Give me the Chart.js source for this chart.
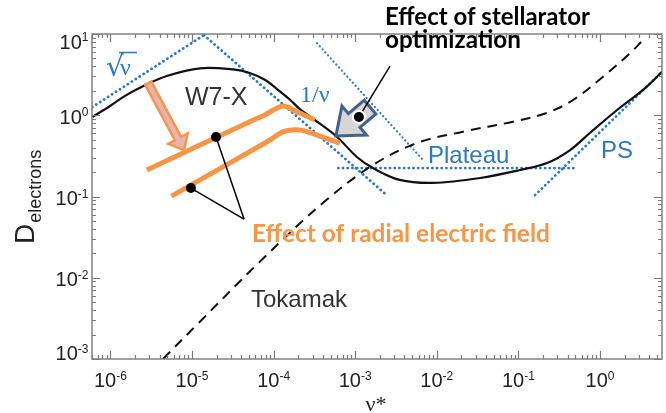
<!DOCTYPE html>
<html>
<head>
<meta charset="utf-8">
<script src="https://cdn.jsdelivr.net/npm/chart.js@4.4.1/dist/chart.umd.min.js"></script>
<style>
  body { margin: 0; background: #fff; }
  canvas { display: block; }
</style>
</head>
<body>
<canvas id="chart" width="666" height="413"></canvas>
<script>
// W7-X neoclassical electron diffusion vs collisionality
const w7xNu = [6.0e-7, 9.9e-7, 1.51e-6, 2.54e-6, 4.9e-6, 1.25e-5, 3.2e-5, 5.1e-5, 7.9e-5, 1.1e-4, 1.6e-4, 2.1e-4, 3.2e-4, 6.0e-4, 1.05e-3, 1.65e-3, 3.5e-3, 9.0e-3, 3.4e-2, 0.105, 0.224, 0.43, 0.75, 1.62, 3.37, 5.8];
const w7xD = [0.95, 1.30, 1.73, 2.29, 3.04, 3.78, 3.66, 3.31, 2.72, 2.10, 1.54, 1.19, 0.874, 0.540, 0.306, 0.224, 0.160, 0.147, 0.169, 0.212, 0.258, 0.373, 0.605, 1.16, 2.05, 3.45];

// tokamak (dashed)
const tokNu = [4.4e-6, 1.25e-5, 6.8e-5, 4.0e-4, 1.65e-3, 5.7e-3, 2.1e-2, 8.6e-2, 0.224, 0.467, 1.09, 2.33, 3.37];
const tokD = [1.0e-3, 2.88e-3, 1.58e-2, 8.3e-2, 0.244, 0.455, 0.628, 0.834, 1.07, 1.54, 2.98, 5.78, 8.44];

// asymptotic regimes (blue dotted)
const sqrtNu = [6.0e-7, 1.4e-5];
const sqrtD = [1.26, 9.7];
const invNu = [1.4e-5, 2.43e-3];
const invD = [9.7, 0.104];
const optNu = [3.4e-4, 6.8e-3];
const optD = [7.7, 0.28];
const plateauNu = [6.2e-4, 0.52];
const plateauD = [0.224, 0.224];
const psNu = [0.16, 5.8];
const psD = [0.104, 3.45];

// with radial electric field (orange)
const erHighNu = [2.8e-6, 5.1e-5, 7.8e-5, 1.3e-4, 1.9e-4, 3.2e-4];
const erHighD = [0.212, 0.833, 1.01, 1.30, 1.11, 0.874];
const erLowNu = [5.6e-6, 5.1e-5, 9.0e-5, 1.32e-4, 2.1e-4, 3.4e-4, 6.5e-4];
const erLowD = [0.101, 0.356, 0.496, 0.628, 0.658, 0.571, 0.452];

// tick labels (decade exponents)
const xTickExp = [-6, -5, -4, -3, -2, -1, 0];
const yTickExp = [-3, -2, -1, 0, 1];

const blue = '#2b79c2';
const orange = '#f79646';

const pts = (xs, ys) => xs.map((x, i) => ({ x: x, y: ys[i] }));

function dotted(xs, ys, w) {
    return {
        data: pts(xs, ys), borderColor: blue, borderWidth: w,
        borderDash: [0.1, w > 2.5 ? 4.6 : 4], borderCapStyle: 'round',
        pointRadius: 0, tension: 0, order: 4
    };
}

function blockArrow(ctx, a, b, shaftW, headW, headL, fill, stroke, lw) {
    const dx = b[0] - a[0], dy = b[1] - a[1];
    const len = Math.hypot(dx, dy);
    const ux = dx / len, uy = dy / len, nx = -uy, ny = ux;
    const bx = b[0] - ux * headL, by = b[1] - uy * headL;
    ctx.beginPath();
    ctx.moveTo(a[0] + nx * shaftW / 2, a[1] + ny * shaftW / 2);
    ctx.lineTo(bx + nx * shaftW / 2, by + ny * shaftW / 2);
    ctx.lineTo(bx + nx * headW / 2, by + ny * headW / 2);
    ctx.lineTo(b[0], b[1]);
    ctx.lineTo(bx - nx * headW / 2, by - ny * headW / 2);
    ctx.lineTo(bx - nx * shaftW / 2, by - ny * shaftW / 2);
    ctx.lineTo(a[0] - nx * shaftW / 2, a[1] - ny * shaftW / 2);
    ctx.closePath();
    ctx.fillStyle = fill;
    ctx.fill();
    ctx.lineJoin = 'miter';
    ctx.strokeStyle = stroke;
    ctx.lineWidth = lw;
    ctx.stroke();
}

// draw text scaled to a target width
function fitText(ctx, text, x, y, width, weight, family, color) {
    ctx.font = weight + ' 20px ' + family;
    const size = 20 * width / ctx.measureText(text).width;
    ctx.font = weight + ' ' + size.toFixed(2) + 'px ' + family;
    ctx.fillStyle = color;
    ctx.textAlign = 'left';
    ctx.fillText(text, x, y);
}

function powLabel(ctx, exp, x, baseline, align) {
    ctx.font = '20px "Liberation Sans"';
    const w10 = ctx.measureText('10').width;
    ctx.font = '12px "Liberation Sans"';
    const we = ctx.measureText(String(exp)).width;
    const start = align === 'center' ? x - (w10 + we) / 2 : x - (w10 + we);
    ctx.fillStyle = '#222';
    ctx.textAlign = 'left';
    ctx.font = '20px "Liberation Sans"';
    ctx.fillText('10', start, baseline);
    ctx.font = '12px "Liberation Sans"';
    ctx.fillText(String(exp), start + w10, baseline - 7.5);
}

const frame = {
    id: 'frame',
    afterDatasetsDraw(chart) {
        const { ctx, chartArea: a, scales } = chart;
        const xs = scales.x, ys = scales.y;
        ctx.save();
        ctx.strokeStyle = '#7a7a7a';
        ctx.lineWidth = 1.4;
        ctx.strokeRect(a.left, a.top, a.right - a.left, a.bottom - a.top);
        ctx.lineWidth = 1.2;
        ctx.beginPath();
        for (let d = -7; d <= 1; d++) {
            for (let k = 1; k <= 9; k++) {
                const v = k * Math.pow(10, d);
                if (v < xs.min || v > xs.max) continue;
                const p = Math.round(xs.getPixelForValue(v)) + 0.5;
                const L = k === 1 ? 8 : 4;
                ctx.moveTo(p, a.bottom); ctx.lineTo(p, a.bottom - L);
                ctx.moveTo(p, a.top); ctx.lineTo(p, a.top + L);
            }
        }
        for (let d = -3; d <= 1; d++) {
            for (let k = 1; k <= 9; k++) {
                const v = k * Math.pow(10, d);
                if (v < ys.min * 0.999 || v > ys.max * 1.001) continue;
                const p = Math.round(ys.getPixelForValue(v)) + 0.5;
                const L = k === 1 ? 8 : 4;
                ctx.moveTo(a.left, p); ctx.lineTo(a.left + L, p);
                ctx.moveTo(a.right, p); ctx.lineTo(a.right - L, p);
            }
        }
        ctx.stroke();

        xTickExp.forEach(e => {
            powLabel(ctx, e, xs.getPixelForValue(Math.pow(10, e)), a.bottom + 28, 'center');
        });
        yTickExp.forEach(e => {
            const p = ys.getPixelForValue(Math.pow(10, e));
            const base = Math.min(Math.max(p + 8.5, a.top + 14.5), a.bottom + 1);
            powLabel(ctx, e, a.left - 3.5, base, 'right');
        });

        // axis titles
        ctx.fillStyle = '#222';
        ctx.font = '22px "Liberation Serif"';
        ctx.textAlign = 'center';
        ctx.fillText('\u03bd*', 376, 411);
        ctx.save();
        ctx.translate(34, 244);
        ctx.rotate(-Math.PI / 2);
        ctx.textAlign = 'left';
        ctx.font = '28px "Liberation Sans"';
        ctx.fillText('D', 0, 0);
        const wd = ctx.measureText('D').width;
        ctx.font = '18px "Liberation Sans"';
        ctx.fillText('electrons', wd + 1, 7);
        ctx.restore();
        ctx.restore();
    }
};

const notes = {
    id: 'notes',
    afterDraw(chart) {
        const { ctx, scales } = chart;
        const P = (v) => [scales.x.getPixelForValue(v[0]), scales.y.getPixelForValue(v[1])];
        ctx.save();

        // labels for curves and regimes
        ctx.textAlign = 'left';
        ctx.fillStyle = '#333';
        ctx.font = '25px "Liberation Sans"';
        ctx.fillText('W7-X', 185, 105);
        ctx.font = '24px "Liberation Sans"';
        ctx.fillText('Tokamak', 251, 307);
        ctx.fillStyle = blue;
        ctx.fillText('Plateau', 428, 163);
        ctx.fillText('PS', 601, 158);
        ctx.font = '24px "Liberation Serif"';
        ctx.fillText('1/\u03bd', 300, 102);
        ctx.font = '28px "DejaVu Serif"';
        ctx.fillText('\u221a', 106, 76);
        ctx.font = '24px "Liberation Serif"';
        ctx.fillText('\u03bd', 120, 75);
        ctx.strokeStyle = blue;
        ctx.lineWidth = 1.5;
        ctx.beginPath();
        ctx.moveTo(119, 52.5);
        ctx.lineTo(137, 52.5);
        ctx.stroke();

        // effect of radial electric field: big arrow and pointers
        blockArrow(ctx, P([2.9e-6, 2.49]), P([8.0e-6, 0.373]), 7, 22, 13, '#e6b4b4', orange, 2.5);
        const join = P([4.34e-5, 0.0528]);
        [[1.97e-5, 0.539], [9.7e-6, 0.127]].forEach(d => {
            const q = P(d);
            ctx.strokeStyle = '#000';
            ctx.lineWidth = 1.5;
            ctx.beginPath();
            ctx.moveTo(q[0], q[1]);
            ctx.lineTo(join[0], join[1]);
            ctx.stroke();
            ctx.fillStyle = '#000';
            ctx.beginPath();
            ctx.arc(q[0], q[1], 5, 0, Math.PI * 2);
            ctx.fill();
        });

        // effect of stellarator optimization
        blockArrow(ctx, P([1.52e-3, 1.26]), P([5.8e-4, 0.555]), 18, 38, 24, '#d6d6d6', '#44618c', 3);
        const od = P([1.11e-3, 0.95]);
        const ot = P([2.67e-3, 4.03]);
        ctx.strokeStyle = '#000';
        ctx.lineWidth = 1.5;
        ctx.beginPath();
        ctx.moveTo(od[0], od[1]);
        ctx.lineTo(ot[0], ot[1]);
        ctx.stroke();
        ctx.fillStyle = '#fff';
        ctx.beginPath();
        ctx.arc(od[0], od[1], 7, 0, Math.PI * 2);
        ctx.fill();
        ctx.fillStyle = '#000';
        ctx.beginPath();
        ctx.arc(od[0], od[1], 5, 0, Math.PI * 2);
        ctx.fill();

        fitText(ctx, 'Effect of stellarator', 385, 25, 205, 'bold', 'Lato', '#000');
        fitText(ctx, 'optimization', 385, 48, 136, 'bold', 'Lato', '#000');
        fitText(ctx, 'Effect of radial electric field', 252, 242, 298, 'bold', 'Lato', orange);
        ctx.restore();
    }
};

const ctx = document.getElementById('chart').getContext('2d');
new Chart(ctx, {
    type: 'line',
    data: {
        datasets: [
            { data: pts(erHighNu, erHighD), borderColor: orange, borderWidth: 5, pointRadius: 0, tension: 0.3, order: 0 },
            { data: pts(erLowNu, erLowD), borderColor: orange, borderWidth: 5, pointRadius: 0, tension: 0.3, order: 0 },
            { data: pts(w7xNu, w7xD), borderColor: '#111', borderWidth: 2.2, pointRadius: 0, tension: 0.35, order: 1 },
            { data: pts(tokNu, tokD), borderColor: '#111', borderWidth: 2, borderDash: [10, 7], pointRadius: 0, tension: 0.35, order: 2 },
            dotted(sqrtNu, sqrtD, 2.8),
            dotted(invNu, invD, 2.8),
            dotted(optNu, optD, 2.2),
            dotted(plateauNu, plateauD, 2.8),
            dotted(psNu, psD, 2.8)
        ]
    },
    options: {
        responsive: false,
        animation: false,
        layout: { padding: { left: 92, top: 34, right: 4, bottom: 54 } },
        plugins: { legend: { display: false }, tooltip: { enabled: false } },
        scales: {
            x: { type: 'logarithmic', min: 5.95e-7, max: 5.75, display: false },
            y: { type: 'logarithmic', min: 1e-3, max: 10, display: false }
        }
    },
    plugins: [frame, notes]
});
</script>
</body>
</html>
